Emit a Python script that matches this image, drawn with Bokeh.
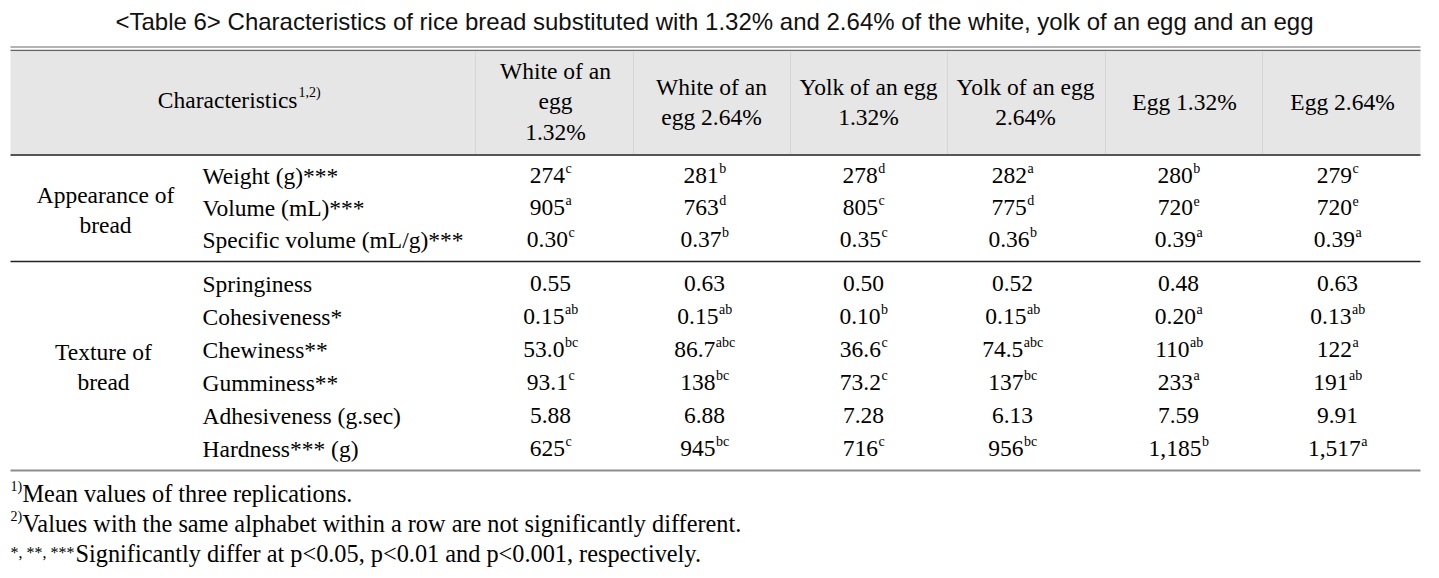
from bokeh.plotting import figure
from bokeh.models import Range1d, ColumnDataSource
from bokeh.core.properties import value
from bokeh.embed import file_html
from bokeh.resources import INLINE

# ---------------- data ----------------
title = "<Table 6> Characteristics of rice bread substituted with 1.32% and 2.64% of the white, yolk of an egg and an egg"
col_labels = [["White of an", "egg", "1.32%"],
              ["White of an", "egg 2.64%"],
              ["Yolk of an egg", "1.32%"],
              ["Yolk of an egg", "2.64%"],
              ["Egg 1.32%"],
              ["Egg 2.64%"]]
groups = [["Appearance of", "bread"], ["Texture of", "bread"]]
row_labels_app = ["Weight (g)***", "Volume (mL)***", "Specific volume (mL/g)***"]
row_labels_tex = ["Springiness", "Cohesiveness*", "Chewiness**", "Gumminess**",
                  "Adhesiveness (g.sec)", "Hardness*** (g)"]

weight = ["274", "281", "278", "282", "280", "279"]
weight_sig = ["c", "b", "d", "a", "b", "c"]
volume = ["905", "763", "805", "775", "720", "720"]
volume_sig = ["a", "d", "c", "d", "e", "e"]
spec_vol = ["0.30", "0.37", "0.35", "0.36", "0.39", "0.39"]
spec_vol_sig = ["c", "b", "c", "b", "a", "a"]
springiness = ["0.55", "0.63", "0.50", "0.52", "0.48", "0.63"]
springiness_sig = ["", "", "", "", "", ""]
cohesiveness = ["0.15", "0.15", "0.10", "0.15", "0.20", "0.13"]
cohesiveness_sig = ["ab", "ab", "b", "ab", "a", "ab"]
chewiness = ["53.0", "86.7", "36.6", "74.5", "110", "122"]
chewiness_sig = ["bc", "abc", "c", "abc", "ab", "a"]
gumminess = ["93.1", "138", "73.2", "137", "233", "191"]
gumminess_sig = ["c", "bc", "c", "bc", "a", "ab"]
adhesiveness = ["5.88", "6.88", "7.28", "6.13", "7.59", "9.91"]
adhesiveness_sig = ["", "", "", "", "", ""]
hardness = ["625", "945", "716", "956", "1,185", "1,517"]
hardness_sig = ["c", "bc", "c", "bc", "b", "a"]

footnotes = [("1)", "Mean values of three replications."),
             ("2)", "Values with the same alphabet within a row are not significantly different."),
             ("*, **, ***", "Significantly differ at p<0.05, p<0.01 and p<0.001, respectively.")]

# ---------------- layout ----------------
SERIF = "Liberation Serif"
SANS = "Liberation Sans"
FS = 23.5
SFS = 14
FNS = 24.3
W, H = 1423, 570
p = figure(width=W, height=H, x_range=Range1d(0, W), y_range=Range1d(H, 0),
           output_backend="svg", toolbar_location=None, min_border=0,
           x_axis_location=None, y_axis_location=None)
p.grid.visible = False
p.outline_line_color = None
p.background_fill_color = "white"
p.border_fill_color = "white"

K = 0.37  # observed vertical offset of the rendered baseline, in em


def txt(xs, ys, texts, size, font=SERIF, align="left", color="black"):
    """ys are the wanted baselines."""
    src = ColumnDataSource(dict(x=xs, y=[v - K * size for v in ys], t=texts))
    p.text(x="x", y="y", text="t", source=src, text_font=value(font),
           text_font_size=value(f"{size}px"), text_align=align,
           text_baseline="alphabetic", text_color=color)


# Times-like advance widths (em) for centring cells with superscripts
ADV = {c: 0.5 for c in "0123456789"}
ADV.update({".": 0.25, ",": 0.25, "a": 0.444, "b": 0.5, "c": 0.444, "d": 0.5, "e": 0.444})


def width(s, fs):
    return sum(ADV.get(ch, 0.5) for ch in s) * fs


L, R = 10, 1420
# title
txt([714], [30], [title], 24, font=SANS, align="center", color="#111111")
# rules
p.segment(x0=[L], y0=[46.5], x1=[R], y1=[46.5], line_color="#9a9a9a", line_width=1.5)
p.segment(x0=[L], y0=[50], x1=[R], y1=[50], line_color="#666666", line_width=1.5)
p.quad(left=[L], right=[R], top=[51], bottom=[154], fill_color="#e6e6e6", line_color=None)
seps = [475, 633, 790, 947, 1105, 1262]
p.segment(x0=seps, y0=[51] * 6, x1=seps, y1=[154] * 6, line_color="#d6d6d6", line_width=1)
p.segment(x0=[L], y0=[154.5], x1=[R], y1=[154.5], line_color="#555555", line_width=2)
p.segment(x0=[L], y0=[261], x1=[R], y1=[261], line_color="#222222", line_width=1.5)
p.segment(x0=[L], y0=[470], x1=[R], y1=[470], line_color="#8c8c8c", line_width=2)

# header
txt([297], [108], ["Characteristics"], FS, align="right")
txt([298], [97], ["1,2)"], SFS)
head_cx = [555, 711, 868, 1025, 1184, 1342]
line_ys = {1: [110], 2: [95, 125], 3: [79, 109.5, 140]}
hx, hy, ht = [], [], []
for cx, lines in zip(head_cx, col_labels):
    for yy, s in zip(line_ys[len(lines)], lines):
        hx.append(cx); hy.append(yy); ht.append(s)
txt(hx, hy, ht, FS, align="center")

# group labels
txt([105, 105], [203, 233], groups[0], FS, align="center")
txt([103, 103], [360, 390], groups[1], FS, align="center")

# rows
app_y = [184, 216, 248]
tex_y = [292, 325, 358, 391, 424, 457]
txt([202] * 3, app_y, row_labels_app, FS)
txt([202] * 6, tex_y, row_labels_tex, FS)

data_cx = [550, 704, 863, 1012, 1178, 1337]
rows = [(weight, weight_sig), (volume, volume_sig), (spec_vol, spec_vol_sig),
        (springiness, springiness_sig), (cohesiveness, cohesiveness_sig),
        (chewiness, chewiness_sig), (gumminess, gumminess_sig),
        (adhesiveness, adhesiveness_sig), (hardness, hardness_sig)]
bx, by, bt, sx, sy, st = [], [], [], [], [], []
for (vals, sigs), yy in zip(rows, app_y + tex_y):
    for cx, v, s in zip(data_cx, vals, sigs):
        wb = width(v, FS)
        ws = width(s, SFS)
        anchor = cx - (wb + ws) / 2 + wb
        bx.append(anchor); by.append(yy); bt.append(v)
        if s:
            sx.append(anchor + 0.5); sy.append(yy - 10.5); st.append(s)
txt(bx, by, bt, FS, align="right")
txt(sx, sy, st, SFS)

# footnotes
fy = [502, 532, 562]
txt([10, 10], [fy[0] - 11, fy[1] - 11], [footnotes[0][0], footnotes[1][0]], SFS)
txt([22, 22], [fy[0], fy[1]], [footnotes[0][1], footnotes[1][1]], FNS)
txt([10], [fy[2] - 4], [footnotes[2][0]], 16)
txt([75], [fy[2]], [footnotes[2][1]], FNS)

open("out.html", "w").write(file_html(p, INLINE))
